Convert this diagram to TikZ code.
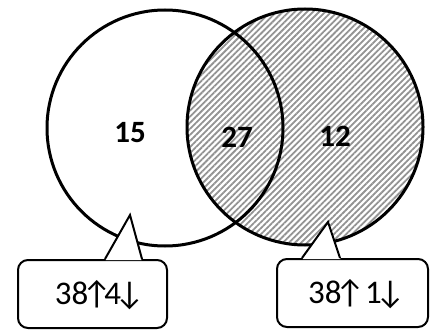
\documentclass[tikz,border=0pt]{standalone}
\usepackage{fontspec}
\setmainfont{Carlito}
\usetikzlibrary{patterns.meta}
\newcommand{\upar}{\kern-0.2em↑\kern-0.22em}
\newcommand{\dnar}{\kern-0.2em↓\kern-0.22em}
\tikzset{ring/.style = {draw, circle, line width=3pt, minimum size=236pt, inner sep=0pt},
         count/.style = {font=\bfseries\fontsize{31}{33}\selectfont, inner sep=0pt},
         tally/.style = {draw, line width=2pt, rounded corners=10pt, minimum height=68pt,
                         inner sep=0pt},
         label/.style = {font=\fontsize{33}{36}\selectfont, inner sep=0pt}}

\begin{document}
\begin{tikzpicture}[x=1pt, y=-1pt]
    \useasboundingbox (0, 0) rectangle (433, 331);

    % the two sets
    \node [ring, draw=none, pattern={Lines[angle=45, distance=4.3pt, line width=1.8pt]}, pattern color=gray!85]
          (rset) at (305, 127) {};
    \node [ring] (lset) at (165, 128) {};
    \node [ring] at (rset) {};

    \node [count] (lonly) at (130, 133) {15};
    \node [count] (both) at (237, 137) {27};
    \node [count] (ronly) at (335, 136) {12};

    % callouts
    \node [tally, minimum width=149pt] (lbox) at (92.5, 294) {};
    \node [tally, minimum width=151pt] (rbox) at (352.5, 293) {};
    \node [label] (ltext) at (96, 295) {38\upar4\dnar};
    \node [label] (rtext) at (353, 294) {38\upar\ 1\dnar};

    \coordinate (ltip) at (130, 215);
    \coordinate (rtip) at (328, 222);

    \fill [white] ([xshift=13pt, yshift=-1.2pt]lbox.north) -- (ltip) -- ([xshift=49pt, yshift=-1.2pt]lbox.north) -- cycle;
    \draw [line width=2pt, line join=miter] ([xshift=12.5pt]lbox.north) -- (ltip) -- ([xshift=49.5pt]lbox.north);
    \fill [white] ([xshift=-50pt, yshift=-1.2pt]rbox.north) -- (rtip) -- ([xshift=-12pt, yshift=-1.2pt]rbox.north) -- cycle;
    \draw [line width=2pt, line join=miter] ([xshift=-50.5pt]rbox.north) -- (rtip) -- ([xshift=-12.5pt]rbox.north);
\end{tikzpicture}
\end{document}
